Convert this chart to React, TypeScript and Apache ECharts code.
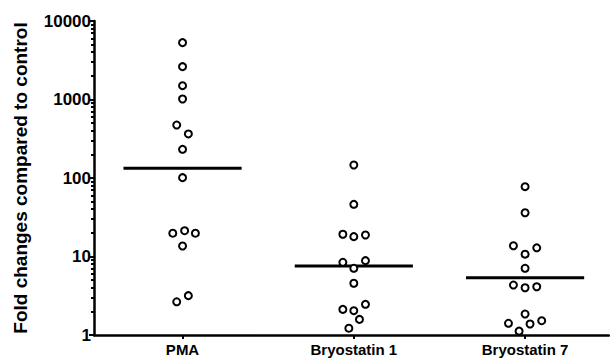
import React, { useEffect, useRef } from "react";
import * as echarts from "echarts";

const categories = ["PMA", "Bryostatin 1", "Bryostatin 7"];
const yTickLabels = ["1", "10", "100", "1000", "10000"];

// values, with the horizontal jitter (in category units)
const pmaValues = [5300, 2620, 1500, 1015, 473, 364, 232, 101, 19.8, 21.3, 19.8, 13.6, 2.65, 3.17];
const pmaJitter = [0, 0, 0, 0, -0.034, 0.034, 0, 0, -0.057, 0.012, 0.075, 0, -0.034, 0.034];
const bryo1Values = [146.5, 46.2, 19.2, 17.9, 18.8, 8.44, 8.85, 7.08, 4.56, 2.12, 2.04, 2.46, 1.58, 1.22];
const bryo1Jitter = [0, 0, -0.064, 0, 0.068, -0.064, 0.068, 0, 0, -0.064, 0, 0.068, 0.033, -0.029];
const bryo7Values = [77.5, 36.1, 13.7, 10.7, 12.9, 7.08, 4.33, 4.0, 4.12, 1.85, 1.41, 1.38, 1.52, 1.12];
const bryo7Jitter = [0, 0, -0.068, 0, 0.068, 0, -0.068, 0, 0.068, 0, -0.097, 0.029, 0.097, -0.035];
const medians = [133, 7.57, 5.37];

const groups = [
  { values: pmaValues, jitter: pmaJitter },
  { values: bryo1Values, jitter: bryo1Jitter },
  { values: bryo7Values, jitter: bryo7Jitter },
];

const minorTickValues: number[] = [];
for (let d = 1; d < 10000; d *= 10) {
  for (let k = 2; k <= 9; k++) minorTickValues.push(k * d);
}

export default function App() {
  const ref = useRef<HTMLDivElement>(null);
  useEffect(() => {
    if (!ref.current) return;
    const chart = echarts.init(ref.current, null, { renderer: "svg" });
    const fontFamily = "Liberation Sans, Arial, sans-serif";
    const series: any[] = [];
    groups.forEach((g, gi) => {
      series.push({
        type: "scatter",
        xAxisIndex: 0,
        yAxisIndex: 0,
        symbol: "circle",
        symbolSize: 7,
        itemStyle: { color: "#ffffff", borderColor: "#000000", borderWidth: 2, opacity: 1 },
        data: g.values.map((v, i) => [gi + 1 + g.jitter[i], v]),
        z: 3,
      });
      series.push({
        type: "line",
        xAxisIndex: 0,
        yAxisIndex: 0,
        symbol: "none",
        lineStyle: { color: "#000000", width: 3 },
        data: [
          [gi + 1 - 0.345, medians[gi]],
          [gi + 1 + 0.345, medians[gi]],
        ],
        z: 2,
      });
    });
    chart.setOption({
      animation: false,
      backgroundColor: "#ffffff",
      grid: { left: 94, right: 1, top: 21, bottom: 28, containLabel: false },
      xAxis: {
        type: "value",
        min: 0.483,
        max: 3.49,
        splitLine: { show: false },
        axisLine: { show: true, lineStyle: { color: "#000", width: 2.5 } },
        axisTick: { show: true, customValues: [1, 2, 3], length: 4, lineStyle: { color: "#000", width: 2 } },
        axisLabel: {
          show: true,
          customValues: [1, 2, 3],
          formatter: (v: number) => categories[Math.round(v) - 1] ?? "",
          color: "#000",
          fontWeight: "bold",
          fontSize: 15,
          fontFamily: "Liberation Sans Narrow, Arial Narrow, Liberation Sans, sans-serif",
          margin: 7,
        },
      },
      yAxis: [
        {
          type: "log",
          logBase: 10,
          min: 1,
          max: 10000,
          name: "Fold changes compared to control",
          nameLocation: "middle",
          nameGap: 64,
          nameTextStyle: { color: "#000", fontWeight: "bold", fontSize: 19, fontFamily },
          splitLine: { show: false },
          axisLine: { show: true, lineStyle: { color: "#000", width: 2.5 } },
          axisTick: { show: true, length: 5, lineStyle: { color: "#000", width: 2 } },
          axisLabel: {
            color: "#000",
            fontWeight: "bold",
            fontSize: 17,
            fontFamily,
            margin: 3,
            formatter: (v: number) => yTickLabels[Math.round(Math.log10(v))] ?? "",
          },
        },
        {
          type: "log",
          logBase: 10,
          min: 1,
          max: 10000,
          position: "left",
          splitLine: { show: false },
          axisLine: { show: false },
          axisLabel: { show: false },
          axisTick: { show: true, customValues: minorTickValues, length: 3, lineStyle: { color: "#000", width: 2 } },
        },
      ],
      series,
    });
    return () => chart.dispose();
  }, []);
  return <div ref={ref} style={{ width: 610, height: 363, position: "absolute", left: 0, top: 0 }} />;
}
